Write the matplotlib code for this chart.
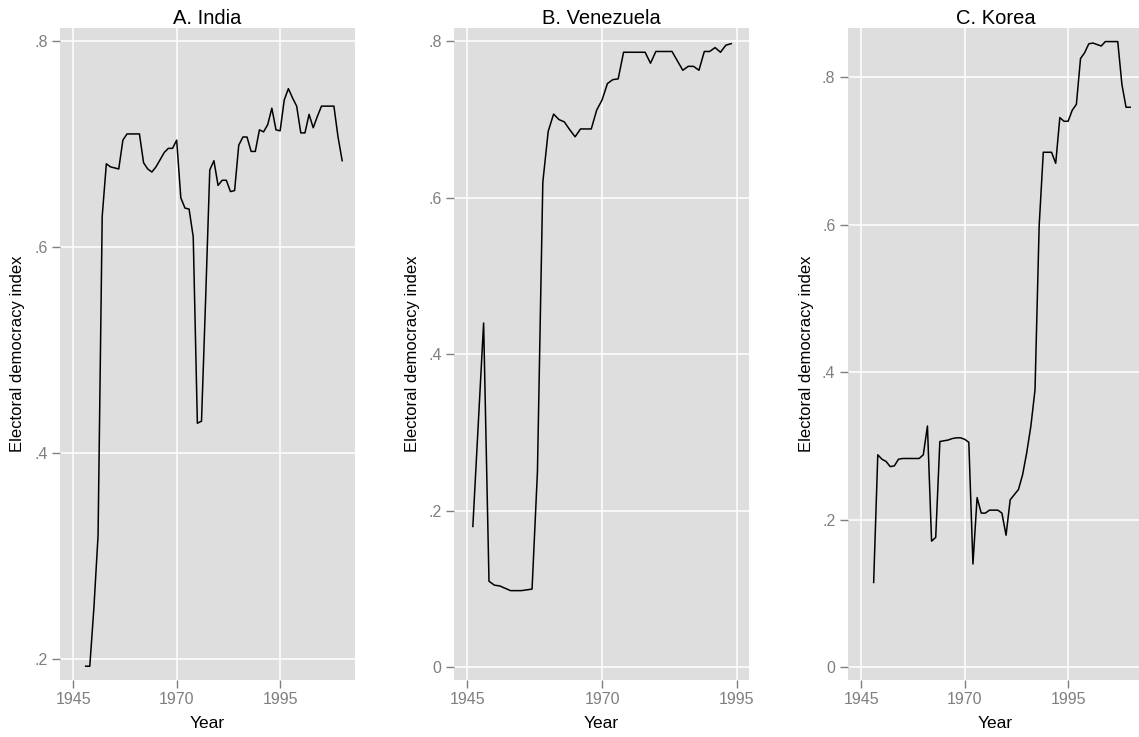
import matplotlib
matplotlib.use("Agg")
import matplotlib.pyplot as plt

plt.rcParams['font.family'] = ['Liberation Sans', 'DejaVu Sans']

# electoral democracy index
india_years = list(range(1948, 2011))
india_vals = [0.193, 0.193, 0.25, 0.32, 0.63, 0.681, 0.678, 0.677, 0.676, 0.704,
              0.71, 0.71, 0.71, 0.71, 0.682, 0.676, 0.673, 0.678, 0.685, 0.692,
              0.696, 0.696, 0.704, 0.648, 0.638, 0.637, 0.61, 0.429, 0.431, 0.55,
              0.675, 0.684, 0.66, 0.665, 0.665, 0.654, 0.655, 0.699, 0.707, 0.707,
              0.693, 0.693, 0.714, 0.712, 0.719, 0.735, 0.714, 0.713, 0.743, 0.754,
              0.745, 0.737, 0.711, 0.711, 0.729, 0.716, 0.727, 0.737, 0.737, 0.737,
              0.737, 0.707, 0.684]

venezuela_years = list(range(1946, 1995))
venezuela_vals = [0.18, 0.31, 0.44, 0.11, 0.105, 0.104, 0.101, 0.098, 0.098, 0.098,
                  0.099, 0.10, 0.25, 0.62, 0.685, 0.707, 0.70, 0.697, 0.687, 0.678,
                  0.688, 0.688, 0.688, 0.712, 0.725, 0.746, 0.751, 0.752, 0.786, 0.786,
                  0.786, 0.786, 0.786, 0.772, 0.787, 0.787, 0.787, 0.787, 0.775, 0.763,
                  0.768, 0.768, 0.763, 0.787, 0.787, 0.792, 0.786, 0.795, 0.797]

korea_years = list(range(1948, 2011))
korea_vals = [0.115, 0.288, 0.282, 0.279, 0.272, 0.273, 0.282, 0.283, 0.283, 0.283,
              0.283, 0.283, 0.288, 0.327, 0.171, 0.176, 0.306, 0.307, 0.308, 0.31,
              0.311, 0.311, 0.309, 0.305, 0.14, 0.23, 0.209, 0.209, 0.213, 0.213,
              0.213, 0.209, 0.179, 0.227, 0.234, 0.241, 0.261, 0.291, 0.327, 0.376,
              0.598, 0.698, 0.698, 0.698, 0.683, 0.745, 0.740, 0.740, 0.755, 0.763,
              0.825, 0.833, 0.845, 0.846, 0.844, 0.842, 0.848, 0.848, 0.848, 0.848,
              0.79, 0.759, 0.759]

titles = ["A. India", "B. Venezuela", "C. Korea"]
x_ticks = [1945, 1970, 1995]
y_ticks_a = [0.2, 0.4, 0.6, 0.8]
y_labels_a = [".2", ".4", ".6", ".8"]
y_ticks_bc = [0, 0.2, 0.4, 0.6, 0.8]
y_labels_bc = ["0", ".2", ".4", ".6", ".8"]

W, H = 1139, 737
fig = plt.figure(figsize=(W / 100, H / 100), dpi=100)

panels = [
    (india_years, india_vals, 60, (1941.8, 2013.1), (0.1796, 0.8129), y_ticks_a, y_labels_a),
    (venezuela_years, venezuela_vals, 454, (1942.5, 1997.3), (-0.0162, 0.817), y_ticks_bc, y_labels_bc),
    (korea_years, korea_vals, 848, (1941.8, 2013.1), (-0.0172, 0.8664), y_ticks_bc, y_labels_bc),
]

top, bottom, pw = 28, 680, 295
for i, (yrs, vals, left, xl, yl, yt, ylab) in enumerate(panels):
    ax = fig.add_axes([left / W, 1 - bottom / H, pw / W, (bottom - top) / H])
    ax.set_facecolor("#DEDEDE")
    ax.plot(yrs, vals, color="black", lw=1.1)
    ax.set_xlim(xl)
    ax.set_ylim(yl)
    ax.set_xticks(x_ticks)
    ax.set_yticks(yt)
    ax.set_yticklabels(ylab)
    ax.grid(True, color="white", lw=1.1)
    ax.set_axisbelow(True)
    for s in ax.spines.values():
        s.set_visible(False)
    ax.tick_params(length=6, width=1, color="#7F7F7F", labelcolor="#7F7F7F",
                   labelsize=11.5, pad=3)
    ax.set_title(titles[i], fontsize=14.5, pad=3)
    ax.set_xlabel("Year", fontsize=12.5, labelpad=6)
    fig.text((left - 42) / W, 1 - ((top + bottom) / 2) / H,
             "Electoral democracy index", rotation=90,
             ha="center", va="center", fontsize=12)

fig.savefig("out.png", dpi=100)
